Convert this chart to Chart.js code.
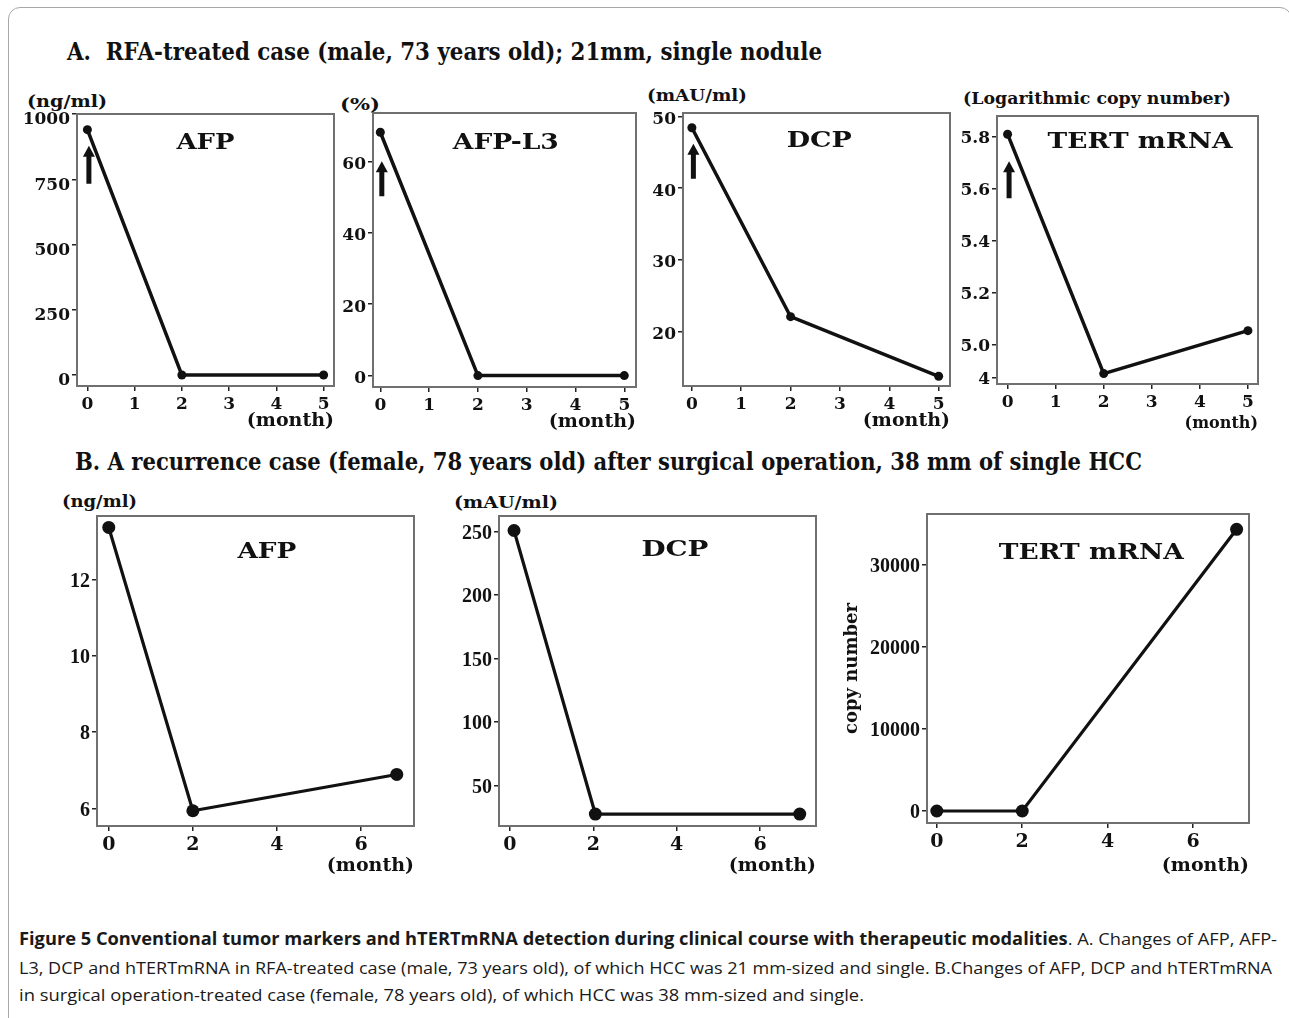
<!DOCTYPE html>
<html><head><meta charset="utf-8">
<script src="https://cdn.jsdelivr.net/npm/chart.js@4.4.0/dist/chart.umd.min.js"></script>
<style>
html,body{margin:0;padding:0;background:#fff;}
body{width:1289px;height:1018px;position:relative;overflow:hidden;font-family:"DejaVu Serif",serif;}
.frame{position:absolute;left:8px;top:7px;width:1284px;height:1040px;border:1.5px solid #a8a8a8;border-radius:12px;box-sizing:border-box;}
.t{position:absolute;white-space:nowrap;transform-origin:0 50%;line-height:1;color:#111;}
.h{font-family:"DejaVu Serif",serif;font-weight:bold;font-size:24px;}
.u{font-family:"DejaVu Serif",serif;font-weight:bold;font-size:17px;}
.c{font-family:"Open Sans",sans-serif;font-size:17px;color:#1a1a1a;}
canvas{position:absolute;}
</style></head><body>
<div class="frame"></div>
<div class="t h" data-x="67" data-y="52" data-w="755">A.&nbsp; RFA-treated case (male, 73 years old); 21mm, single nodule</div>
<div class="t h" data-x="75" data-y="462" data-w="1067">B. A recurrence case (female, 78 years old) after surgical operation, 38 mm of single HCC</div>

<div class="t u" data-x="27" data-y="101" data-w="80">(ng/ml)</div>
<div class="t u" data-x="340" data-y="104" data-w="40">(%)</div>
<div class="t u" data-x="647" data-y="95" data-w="100">(mAU/ml)</div>
<div class="t u" data-x="963" data-y="98" data-w="268">(Logarithmic copy number)</div>
<div class="t u" data-x="62" data-y="501" data-w="75">(ng/ml)</div>
<div class="t u" data-x="454" data-y="502" data-w="104">(mAU/ml)</div>

<div class="t c" data-x="19" data-y="938" data-w="1258"><b>Figure 5 Conventional tumor markers and hTERTmRNA detection during clinical course with therapeutic modalities</b>. A. Changes of AFP, AFP-</div>
<div class="t c" data-x="19" data-y="967" data-w="1253">L3, DCP and hTERTmRNA in RFA-treated case (male, 73 years old), of which HCC was 21 mm-sized and single. B.Changes of AFP, DCP and hTERTmRNA</div>
<div class="t c" data-x="19" data-y="994" data-w="845">in surgical operation-treated case (female, 78 years old), of which HCC was 38 mm-sized and single.</div>

<script>
// ---------- DATA ----------
const monthsA = [0, 2, 5];
const afpA = [940, 0, 0];
const afpL3A = [68.2, 0, 0];
const dcpA = [48.4, 22.1, 13.8];
const tertA = [5.81, 4.89, 5.055];

const monthsAfpB = [0, 2, 6.85];
const afpB = [13.36, 5.94, 6.89];
const monthsDcpB = [0.1, 2.05, 6.95];
const dcpB = [251, 27.7, 27.7];
const monthsTertB = [0, 2, 7.02];
const tertB = [0, 0, 34360];

const xTicksA = [0, 1, 2, 3, 4, 5];
const xTicksB = [0, 2, 4, 6];
const yTicksAfpA = [0, 250, 500, 750, 1000];
const yTicksL3A = [0, 20, 40, 60];
const yTicksDcpA = [20, 30, 40, 50];
const yTicksTertA = [4.875, 5.0, 5.2, 5.4, 5.6, 5.8];
const yLabelsTertA = ['4', '5.0', '5.2', '5.4', '5.6', '5.8'];
const yTicksAfpB = [6, 8, 10, 12];
const yTicksDcpB = [50, 100, 150, 200, 250];
const yTicksTertB = [0, 10000, 20000, 30000];

// ---------- TEXT FIT ----------
document.querySelectorAll('.t').forEach(el => {
  const w = +el.dataset.w, x = +el.dataset.x, y = +el.dataset.y;
  const nat = el.getBoundingClientRect().width;
  el.style.left = x + 'px';
  el.style.top = (y - el.offsetHeight / 2) + 'px';
  el.style.transform = 'scaleX(' + (w / nat) + ')';
});

// ---------- PLUGIN ----------
const deco = {
  id: 'deco',
  beforeDatasetsDraw(chart) {
    const ca = chart.chartArea, ctx = chart.ctx;
    ctx.save();
    ctx.strokeStyle = '#707070';
    ctx.lineWidth = 2;
    ctx.strokeRect(ca.left, ca.top, ca.right - ca.left, ca.bottom - ca.top);
    ctx.restore();
  },
  afterDatasetsDraw(chart) {
    const p = chart.options.plugins.deco, ca = chart.chartArea, ctx = chart.ctx;
    ctx.save();
    ctx.font = 'bold 23px "DejaVu Serif"';
    const w = ctx.measureText(p.name).width;
    ctx.translate(ca.left + (ca.right - ca.left) * p.cx, ca.top + p.dy);
    ctx.scale(p.w / w, 1);
    ctx.textAlign = 'center';
    ctx.textBaseline = 'middle';
    ctx.fillStyle = '#111';
    ctx.fillText(p.name, 0, 0);
    ctx.restore();
    if (p.arrow) {
      const pt = chart.getDatasetMeta(0).data[0];
      const x = pt.x + 1.5;
      const tip = pt.y + p.arrow.dy;
      const bot = tip + p.arrow.len;
      ctx.save();
      ctx.fillStyle = '#111';
      ctx.beginPath();
      ctx.moveTo(x, tip);
      ctx.lineTo(x + 6, tip + 11);
      ctx.lineTo(x + 2.5, tip + 11);
      ctx.lineTo(x + 2.5, bot);
      ctx.lineTo(x - 2.5, bot);
      ctx.lineTo(x - 2.5, tip + 11);
      ctx.lineTo(x - 6, tip + 11);
      ctx.closePath();
      ctx.fill();
      ctx.restore();
    }
  }
};

// ---------- PANELS ----------
const SER = 'DejaVu Serif', TMS = 'Liberation Serif';
const panels = [
  {frame:[77,114,334,386], padL:60, padB:46, mx:monthsA, v:afpA, xr:[-0.22,5.22], yr:[-42,1000], xt:xTicksA, yt:yTicksAfpA,
   name:'AFP', cx:0.5, dy:29, w:58, arrow:{dy:16,len:38}, r:4.5, lw:3.5, xf:[SER,17], yf:[SER,17], ms:19, lo:6},
  {frame:[373,113,636,387], padL:45, padB:46, mx:monthsA, v:afpL3A, xr:[-0.15,5.24], yr:[-3.2,73.6], xt:xTicksA, yt:yTicksL3A,
   name:'AFP-L3', cx:0.505, dy:30, w:106, arrow:{dy:29,len:35}, r:4.5, lw:3.5, xf:[SER,17], yf:[SER,17], ms:19, lo:3},
  {frame:[683,113,950,386], padL:45, padB:46, mx:monthsA, v:dcpA, xr:[-0.18,5.23], yr:[12.45,50.46], xt:xTicksA, yt:yTicksDcpA,
   name:'DCP', cx:0.51, dy:28, w:65, arrow:{dy:16,len:35}, r:4.5, lw:3.5, xf:[SER,17], yf:[SER,17], ms:19, lo:3},
  {frame:[997,116,1258,384], padL:45, padB:49, mx:monthsA, v:tertA, xr:[-0.22,5.21], yr:[4.85,5.88], xt:xTicksA, yt:yTicksTertA, yl:yLabelsTertA,
   name:'TERT mRNA', cx:0.548, dy:26, w:185, arrow:{dy:27,len:37}, r:4.5, lw:3.5, xf:[SER,17], yf:[SER,17], ms:16, lo:2},
  {frame:[97,516,414,826], padL:45, padB:51, mx:monthsAfpB, v:afpB, xr:[-0.28,7.26], yr:[5.54,13.66], xt:xTicksB, yt:yTicksAfpB,
   name:'AFP', cx:0.536, dy:36, w:59, r:6.5, lw:3.2, xf:[SER,19], yf:[TMS,20], ms:19, lo:2},
  {frame:[499,516,816,826], padL:45, padB:51, mx:monthsDcpB, v:dcpB, xr:[-0.26,7.34], yr:[18.3,262.4], xt:xTicksB, yt:yTicksDcpB,
   name:'DCP', cx:0.555, dy:34, w:67, r:6.5, lw:3.2, xf:[SER,19], yf:[TMS,20], ms:19, lo:2},
  {frame:[927,514,1249,823], padL:90, padB:54, mx:monthsTertB, v:tertB, xr:[-0.23,7.31], yr:[-1465,36227], xt:xTicksB, yt:yTicksTertB,
   name:'TERT mRNA', cx:0.51, dy:39, w:185, r:6.5, lw:3.2, xf:[SER,19], yf:[TMS,20], ms:19, lo:2, ytitle:'copy number'}
];

const padT = 20, padR = 12;
panels.forEach(p => {
  const [l, t, r, b] = p.frame;
  const cv = document.createElement('canvas');
  const W = p.padL + (r - l) + padR, H = padT + (b - t) + p.padB;
  cv.width = W; cv.height = H;
  cv.style.left = (l - p.padL) + 'px';
  cv.style.top = (t - padT) + 'px';
  cv.style.width = W + 'px'; cv.style.height = H + 'px';
  document.body.appendChild(cv);
  const fnt = (f, s) => ({family: f, weight: 'bold', size: s});
  new Chart(cv, {
    type: 'line',
    data: {datasets: [{
      data: p.mx.map((m, i) => ({x: m, y: p.v[i]})),
      borderColor: '#111', backgroundColor: '#111', borderWidth: p.lw,
      pointRadius: p.r, pointBackgroundColor: '#111', pointBorderColor: '#111', pointBorderWidth: 0,
      tension: 0, clip: false
    }]},
    options: {
      responsive: false, animation: false, devicePixelRatio: 1,
      layout: {padding: {top: padT, right: padR, left: 0, bottom: 0}},
      plugins: {legend: {display: false}, tooltip: {enabled: false},
        deco: {name: p.name, cx: p.cx, dy: p.dy, w: p.w, arrow: p.arrow}},
      scales: {
        x: {
          type: 'linear', min: p.xr[0], max: p.xr[1],
          afterBuildTicks: a => { a.ticks = p.xt.map(v => ({value: v})); },
          afterFit: a => { a.height = p.padB; },
          grid: {drawOnChartArea: false, drawTicks: true, tickLength: 5, color: '#222', lineWidth: 1.5},
          border: {display: false},
          ticks: {font: fnt(p.xf[0], p.xf[1]), color: '#111', padding: 3, maxRotation: 0, autoSkip: false,
                  callback: v => String(v)},
          title: {display: true, text: '(month)', align: 'end', font: fnt(SER, p.ms), color: '#111', padding: 0}
        },
        y: {
          type: 'linear', min: p.yr[0], max: p.yr[1],
          afterBuildTicks: a => { a.ticks = p.yt.map(v => ({value: v})); },
          afterFit: a => { a.width = p.padL; },
          grid: {drawOnChartArea: false, drawTicks: true, tickLength: 5, color: '#222', lineWidth: 1.5},
          border: {display: false},
          ticks: {font: fnt(p.yf[0], p.yf[1]), color: '#111', padding: 2, autoSkip: false, labelOffset: p.lo,
                  callback: (v, i) => p.yl ? p.yl[i] : String(v)},
          title: {display: !!p.ytitle, text: p.ytitle || '', font: fnt(SER, 18), color: '#111', padding: {top: 5, bottom: 0}}
        }
      }
    },
    plugins: [deco]
  });
});
</script>
</body></html>
